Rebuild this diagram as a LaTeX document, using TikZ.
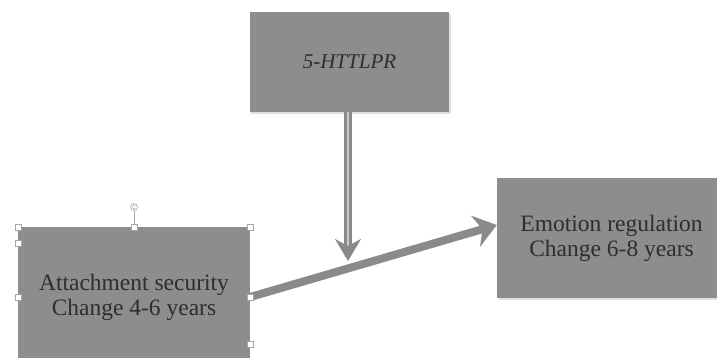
\documentclass[tikz,border=0pt]{standalone}
\usepackage{fontspec}
\setmainfont{Liberation Serif}
\usetikzlibrary{arrows.meta}
\definecolor{boxgray}{HTML}{8D8D8F}
\definecolor{arrgray}{HTML}{8A8A8C}
\definecolor{txtgray}{HTML}{2E2E2E}
\tikzset{
  box/.style={draw=none, fill=boxgray, text=txtgray, align=center, inner sep=0pt, font=\fontsize{23.5}{25}\selectfont},
  handle/.style={draw=gray!70, fill=white, minimum size=6pt, inner sep=0pt, line width=0.5pt},
  bigarrow/.style={draw=arrgray, line width=8pt, -{Stealth[length=22pt, width=32pt, inset=7pt]}},
  dblarrow/.style={draw=arrgray, line width=2.6pt, double=arrgray!45, double distance=2.4pt, -{Stealth[length=22pt, width=26pt, inset=7pt, fill=arrgray]}}
}
\begin{document}
\begin{tikzpicture}[x=1pt, y=-1pt]
\useasboundingbox (0,0) rectangle (717,358);
% shadows
\fill[gray!25] (251,14) rectangle (451,114);
\fill[gray!25] (499,180) rectangle (728,300);
% boxes
\node[box, minimum width=199pt, minimum height=100pt, font=\fontsize{21}{25}\selectfont\itshape] (gene) at (349.5,62) {5-HTTLPR};
\node[box, minimum width=229pt, minimum height=120pt] (emo) at (611.5,238) {Emotion regulation\\Change 6-8 years};
\node[box, minimum width=232pt, minimum height=140pt] (att) at (134,297) {Attachment security\\Change 4-6 years};
% arrows
\coordinate (mid) at (348,261);
\draw[bigarrow] (att.east) -- (emo.west |- 0,225);
\draw[dblarrow] (gene.south -| mid) -- (mid);
% handles
\coordinate (rot) at (134,207);
\draw[gray!70, line width=0.6pt] (rot) ++(0,4) -- (att.north);
\draw[gray!70, line width=0.6pt, fill=white] (rot) circle (3.5pt);
\draw[gray!70, line width=0.5pt] (rot) ++(1.5,-1.2) arc (40:320:1.8pt);
\foreach \p in {att.north west, att.north, att.north east, att.west, att.east, att.south west, att.south, att.south east}
  \node[handle] at (\p) {};
\node[handle] at (18,243) {};
\node[handle] at (250,344) {};
\end{tikzpicture}
\end{document}
